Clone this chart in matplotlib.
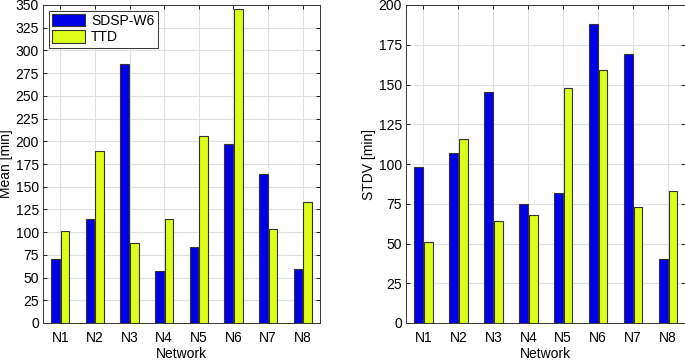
import matplotlib
matplotlib.use("Agg")
import matplotlib.pyplot as plt
import numpy as np

plt.rcParams['font.family'] = ['Liberation Sans', 'DejaVu Sans']

networks = ["N1", "N2", "N3", "N4", "N5", "N6", "N7", "N8"]
mean_sdsp = [70, 115, 285, 57, 84, 197, 164, 59]
mean_ttd = [101, 189, 88, 114, 206, 346, 103, 133]
stdv_sdsp = [98, 107, 145, 75, 82, 188, 169, 40]
stdv_ttd = [51, 116, 64, 68, 148, 159, 73, 83]
series_names = ["SDSP-W6", "TTD"]

blue = "#0000E6"
yellow = "#DDFF1A"
edge = "#333333"
fs = 10

fig = plt.figure(figsize=(6.85, 3.6), dpi=100)
ax1 = fig.add_axes([43/685, 37/360, 277/685, 318/360])
ax2 = fig.add_axes([406/685, 37/360, 279.5/685, 318/360])

x = np.arange(1, len(networks) + 1)
w = 0.25
off = 0.14

def style(ax, ymax, ystep, ylabel, labx):
    ax.set_xlim(0.5, 8.5)
    ax.set_ylim(0, ymax)
    ax.set_xticks(x)
    ax.set_xticklabels(networks)
    ax.set_yticks(np.arange(0, ymax + 1, ystep))
    ax.grid(True, color="#dde3e3", linewidth=0.8)
    ax.set_axisbelow(True)
    ax.tick_params(direction="in", top=True, right=True, labelsize=fs, length=3, width=0.6)
    ax.tick_params(axis="x", pad=6)
    ax.tick_params(axis="y", pad=3)
    for s in ax.spines.values():
        s.set_linewidth(0.7)
        s.set_color("#333333")
    ax.set_xlabel("Network", fontsize=fs, labelpad=1)
    ax.set_ylabel(ylabel, fontsize=fs)
    ax.yaxis.label.set_va("center")
    ax.yaxis.set_label_coords(labx, 0.5)

ax1.bar(x - off, mean_sdsp, w, color=blue, edgecolor=edge, linewidth=0.8, label=series_names[0])
ax1.bar(x + off, mean_ttd, w, color=yellow, edgecolor=edge, linewidth=0.8, label=series_names[1])
style(ax1, 350, 25, "Mean [min]", -0.132)
leg = ax1.legend(loc="upper left", fontsize=fs, frameon=True, fancybox=False,
                 edgecolor="#333333", borderpad=0.25, handlelength=2.4, handleheight=1.0,
                 labelspacing=0.15, borderaxespad=0.4, handletextpad=0.4, framealpha=1)
leg.get_frame().set_linewidth(0.7)

ax2.bar(x - off, stdv_sdsp, w, color=blue, edgecolor=edge, linewidth=0.8)
ax2.bar(x + off, stdv_ttd, w, color=yellow, edgecolor=edge, linewidth=0.8)
style(ax2, 200, 25, "STDV [min]", -0.132)

fig.savefig("out.png", dpi=100)
